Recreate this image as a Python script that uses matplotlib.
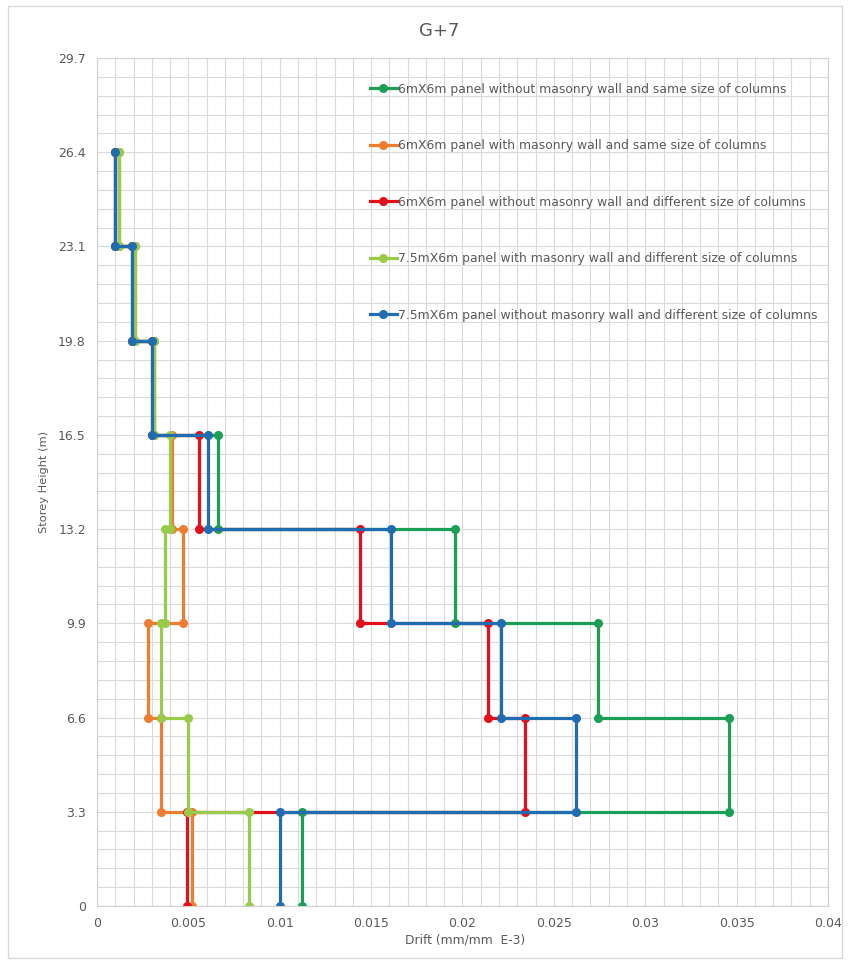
import matplotlib
matplotlib.use('Agg')
import matplotlib.pyplot as plt
import numpy as np
from matplotlib.ticker import MultipleLocator

# storey levels (m) and drift per storey (bottom storey first)
levels = [0, 3.3, 6.6, 9.9, 13.2, 16.5, 19.8, 23.1, 26.4]
y_ticks = [0, 3.3, 6.6, 9.9, 13.2, 16.5, 19.8, 23.1, 26.4, 29.7]
x_ticks = [0, 0.005, 0.01, 0.015, 0.02, 0.025, 0.03, 0.035, 0.04]
x_tick_labels = ['0', '0.005', '0.01', '0.015', '0.02', '0.025', '0.03', '0.035', '0.04']

labels = [
    '6mX6m panel without masonry wall and same size of columns',
    '6mX6m panel with masonry wall and same size of columns',
    '6mX6m panel without masonry wall and different size of columns',
    '7.5mX6m panel with masonry wall and different size of columns',
    '7.5mX6m panel without masonry wall and different size of columns',
]
colors = ['#1b9e55', '#ed7d31', '#e3101c', '#98cb4a', '#1f6cb0']

drift_green = [0.0112, 0.0346, 0.0274, 0.0196, 0.0066, 0.0031, 0.0020, 0.0010]
drift_orange = [0.0052, 0.0035, 0.0028, 0.0047, 0.0041, 0.0031, 0.0021, 0.0012]
drift_red = [0.0049, 0.0234, 0.0214, 0.0144, 0.0056, 0.0030, 0.0019, 0.0010]
drift_lgreen = [0.0083, 0.0050, 0.0035, 0.0037, 0.0040, 0.0031, 0.0021, 0.0012]
drift_blue = [0.0100, 0.0262, 0.0221, 0.0161, 0.0061, 0.0030, 0.0019, 0.0010]
all_drifts = [drift_green, drift_orange, drift_red, drift_lgreen, drift_blue]

fig = plt.figure(figsize=(8.48, 9.64), dpi=100)
ax = fig.add_axes([0.1144, 0.0602, 0.862, 0.8796])

for drift, lab, col in zip(all_drifts, labels, colors):
    xs, ys = [], []
    for i, d in enumerate(drift):
        xs += [d, d]
        ys += [levels[i], levels[i + 1]]
    ax.plot(xs, ys, color=col, lw=2.3, marker='o', ms=5.5,
            mfc=col, mec=col, label=lab)

ax.set_xlim(0, 0.04)
ax.set_ylim(0, 29.7)
ax.set_xticks(x_ticks)
ax.set_xticklabels(x_tick_labels)
ax.set_yticks(y_ticks)
ax.set_yticklabels([f'{v:g}' for v in y_ticks])
ax.xaxis.set_minor_locator(MultipleLocator(0.001))
ax.yaxis.set_minor_locator(MultipleLocator(0.66))
ax.grid(which='both', color='#dadada', lw=0.8)
ax.set_axisbelow(True)
ax.tick_params(which='both', length=0, labelsize=9, labelcolor='#595959', pad=8)
for s in ax.spines.values():
    s.set_color('#d0d0d0')
    s.set_linewidth(0.8)

fig.text(0.518, 0.968, 'G+7', ha='center', va='center', fontsize=13, color='#595959')
fig.text(0.052, 0.5, 'Storey Height (m)', rotation=90, ha='center', va='center',
         fontsize=8.2, color='#595959')
fig.text(0.548, 0.025, 'Drift (mm/mm  E-3)', ha='center', va='center',
         fontsize=8.8, color='#595959')

leg = ax.legend(loc='upper left', bbox_to_anchor=(0.358, 0.984), frameon=False,
                fontsize=8.9, labelspacing=3.52, handlelength=2.2, handletextpad=0.1,
                labelcolor='#595959')

# light border round the whole chart
fig.patches.append(plt.Rectangle((0.009, 0.006), 0.984, 0.988, transform=fig.transFigure,
                                 fill=False, ec='#d9d9d9', lw=1))

plt.savefig('out.png', dpi=100)
